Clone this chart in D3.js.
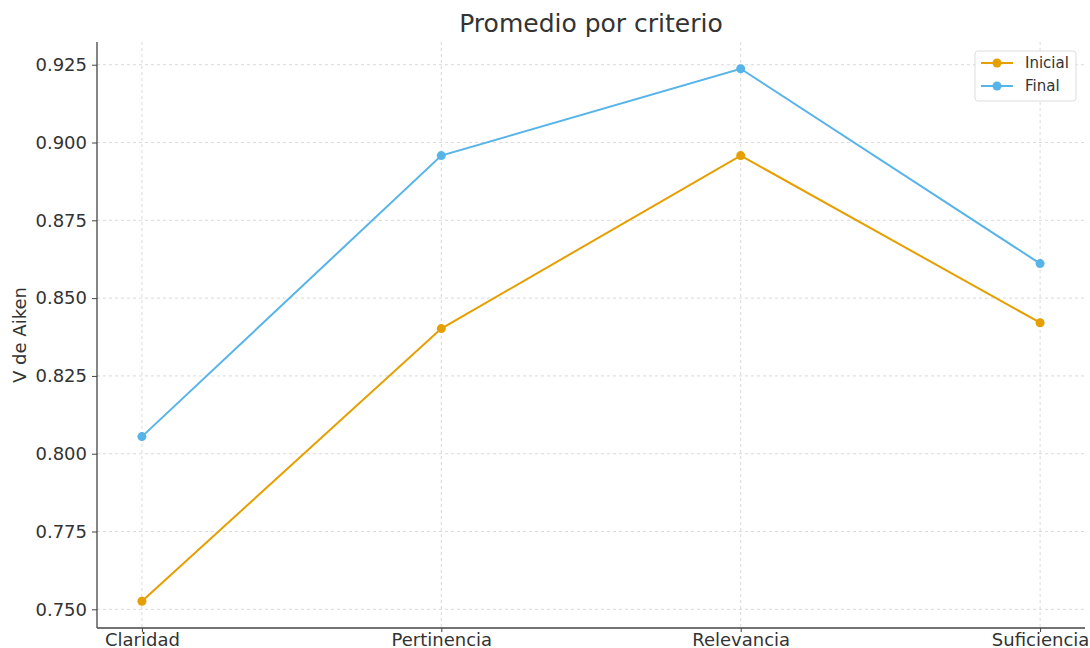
<!DOCTYPE html>
<html><head><meta charset="utf-8">
<script src="https://cdn.jsdelivr.net/npm/d3@7"></script>
<style>body{margin:0;background:#fff;} svg{font-family:"DejaVu Sans",sans-serif;}</style>
</head><body>
<svg id="c" width="1090" height="648"></svg>
<script>
const categories = ["Claridad", "Pertinencia", "Relevancia", "Suficiencia"];
const inicial = [0.7526, 0.8402, 0.8958, 0.8421];
const final_ = [0.8055, 0.8958, 0.9237, 0.8611];
const yTicks = [0.750, 0.775, 0.800, 0.825, 0.850, 0.875, 0.900, 0.925];
const seriesNames = ["Inicial", "Final"];
const colors = ["#E69F00", "#56B4E9"];

const svg = d3.select("#c");
const L = 97, R = 1085, T = 42, B = 628;
const x = d3.scaleLinear().domain([-0.15, 3.15]).range([L, R]);
const y = d3.scaleLinear().domain([0.7440, 0.9323]).range([B, T]);
const txt = "#333";

// grid
svg.append("g").selectAll("line").data(yTicks).join("line")
  .attr("x1", L).attr("x2", R).attr("y1", d => y(d)).attr("y2", d => y(d))
  .attr("stroke", "#d0d0d0").attr("stroke-width", 0.8).attr("stroke-dasharray", "3,3");
svg.append("g").selectAll("line").data(categories).join("line")
  .attr("x1", (d, i) => x(i)).attr("x2", (d, i) => x(i)).attr("y1", T).attr("y2", B)
  .attr("stroke", "#d0d0d0").attr("stroke-width", 0.8).attr("stroke-dasharray", "3,3");

// axes
const yAxis = d3.axisLeft(y).tickValues(yTicks).tickFormat(d3.format(".3f")).tickSize(5).tickPadding(5);
const gy = svg.append("g").attr("transform", `translate(${L},0)`).call(yAxis);
gy.select(".domain").attr("d", `M0,${T}V${B}`).attr("stroke", "#444").attr("stroke-width", 1.3);
gy.selectAll(".tick line").attr("stroke", "#444");
gy.selectAll("text").attr("font-size", 18).attr("fill", txt).attr("font-family", "DejaVu Sans");

const xAxis = d3.axisBottom(x).tickValues([0,1,2,3]).tickFormat(i => categories[i]).tickSize(4).tickPadding(1);
const gx = svg.append("g").attr("transform", `translate(0,${B})`).call(xAxis);
gx.select(".domain").attr("d", `M${L},0H${R}`).attr("stroke", "#444").attr("stroke-width", 1.3);
gx.selectAll(".tick line").attr("stroke", "#444");
gx.selectAll("text").attr("font-size", 18).attr("fill", txt).attr("font-family", "DejaVu Sans");

// lines
const line = d3.line().x((d, i) => x(i)).y(d => y(d));
[inicial, final_].forEach((s, k) => {
  svg.append("path").datum(s).attr("d", line).attr("fill", "none")
    .attr("stroke", colors[k]).attr("stroke-width", 2);
  svg.append("g").selectAll("circle").data(s).join("circle")
    .attr("cx", (d, i) => x(i)).attr("cy", d => y(d)).attr("r", 4.5).attr("fill", colors[k]);
});

// title & labels
svg.append("text").attr("x", (L + R) / 2).attr("y", 32).attr("text-anchor", "middle")
  .attr("font-size", 25).attr("fill", txt).text("Promedio por criterio");
svg.append("text").attr("transform", `translate(26,${(T + B) / 2}) rotate(-90)`).attr("text-anchor", "middle")
  .attr("font-size", 18).attr("fill", txt).text("V de Aiken");

// legend
const lg = svg.append("g").attr("transform", "translate(975,51)");
lg.append("rect").attr("width", 101).attr("height", 50).attr("rx", 3)
  .attr("fill", "#fff").attr("fill-opacity", 0.85).attr("stroke", "#ddd");
seriesNames.forEach((n, k) => {
  const yy = 12 + k * 23;
  lg.append("line").attr("x1", 6).attr("x2", 38).attr("y1", yy).attr("y2", yy)
    .attr("stroke", colors[k]).attr("stroke-width", 2);
  lg.append("circle").attr("cx", 22).attr("cy", yy).attr("r", 4.5).attr("fill", colors[k]);
  lg.append("text").attr("x", 50).attr("y", yy + 5).attr("font-size", 15).attr("fill", txt).text(n);
});
</script>
</body></html>
